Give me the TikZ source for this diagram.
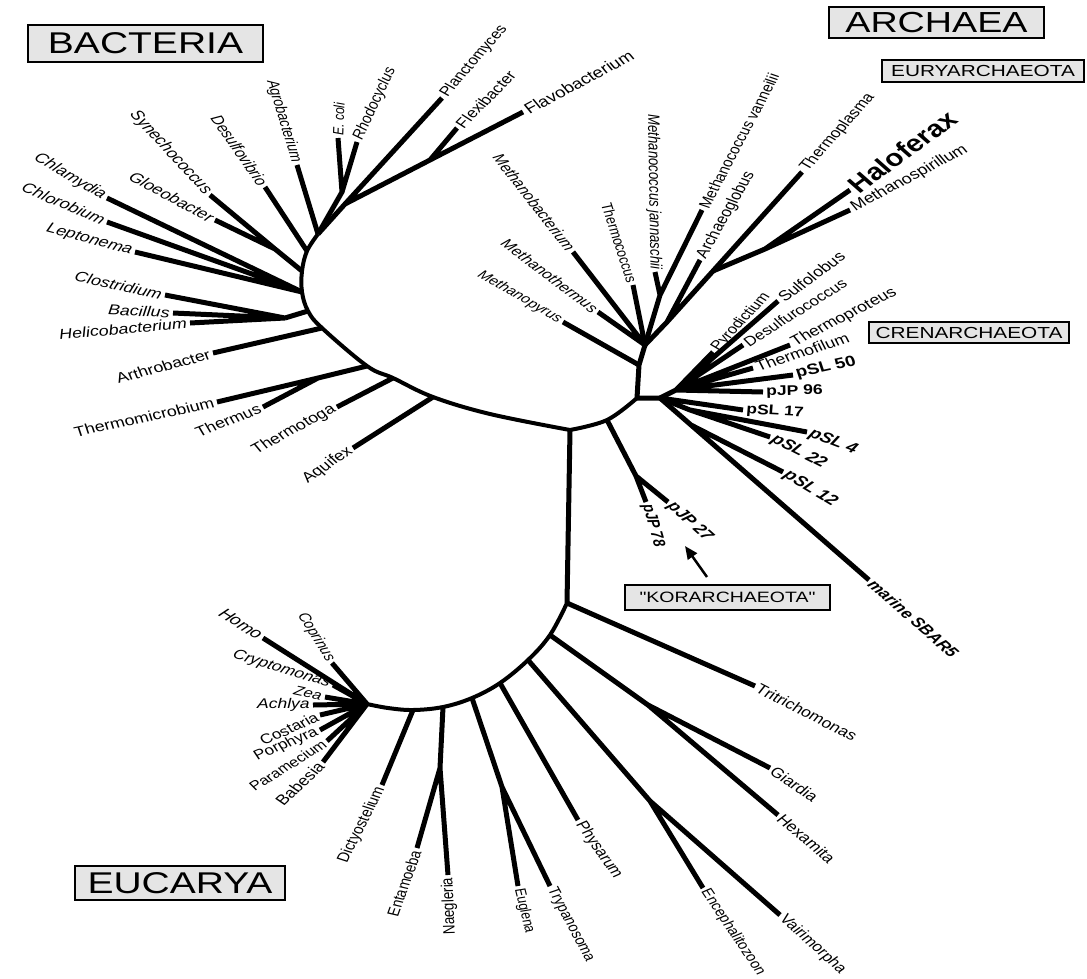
\documentclass[tikz,border=0pt]{standalone}
\usepackage{fontspec}
\setmainfont{Liberation Sans}
\newfontfamily\boxfont{Liberation Sans}[FakeStretch=1.3]
\usetikzlibrary{arrows.meta}
\definecolor{boxgray}{gray}{0.9}

\begin{document}
\begin{tikzpicture}[x=1pt, y=-1pt,
    spine/.style={line width=4pt, line join=round},
    branch/.style={line width=5pt},
    lab/.style={inner sep=2.5pt, font=\fontsize{#1}{#1}\selectfont}, lab/.default=14.3,
    ilab/.style={inner sep=2.5pt, font=\fontsize{#1}{#1}\selectfont\itshape}, ilab/.default=14.3,
    blab/.style={inner sep=2.5pt, font=\fontsize{#1}{#1}\selectfont\bfseries}, blab/.default=14.3,
    bilab/.style={inner sep=2.5pt, font=\fontsize{#1}{#1}\selectfont\bfseries\itshape}, bilab/.default=14.3,
    tilt/.style={xscale=1.25, rotate={atan(1.25*tan(#1))}},
    taxbox/.style={draw, line width=2.5pt, fill=boxgray, inner sep=0pt}]
    \useasboundingbox (0,0) rectangle (1087,978);

    % Domain boxes
    \node[taxbox, minimum width=235pt, minimum height=37pt, font=\boxfont\fontsize{30}{30}\selectfont] (bact) at (145.5,43.5) {BACTERIA};
    \node[taxbox, minimum width=215pt, minimum height=31pt, font=\boxfont\fontsize{29}{29}\selectfont] (arch) at (936.5,22.5) {ARCHAEA};
    \node[taxbox, minimum width=202pt, minimum height=22pt, font=\boxfont\fontsize{16}{16}\selectfont] (eury) at (983,71) {EURYARCHAEOTA};
    \node[taxbox, minimum width=200pt, minimum height=21pt, font=\boxfont\fontsize{16}{16}\selectfont] (cren) at (969,332.5) {CRENARCHAEOTA};
    \node[taxbox, minimum width=205pt, minimum height=25pt, font=\boxfont\fontsize{15}{15}\selectfont] (kor) at (727.5,597.5) {"KORARCHAEOTA"};
    \node[taxbox, minimum width=210pt, minimum height=34pt, font=\boxfont\fontsize{30}{30}\selectfont] (euca) at (180,883) {EUCARYA};

    % Bacteria: backbone
    \coordinate (r0) at (570,430);
    \coordinate (b1) at (490,414);
    \coordinate (b2) at (433,397);
    \coordinate (b3) at (393,378);
    \coordinate (b4) at (367,366);
    \coordinate (b5) at (322,328);
    \coordinate (b6) at (308,311);
    \coordinate (b7) at (302,292);
    \coordinate (b8) at (302,271);
    \coordinate (b9) at (307,251);
    \coordinate (b10) at (318,234);
    \draw[spine] plot[smooth, tension=0.6] coordinates {(r0) (b1) (b2) (b3) (b4) (b5) (b6) (b7) (b8) (b9) (b10)};

    % Bacteria: inner joints and tips
    \coordinate (cc) at (285,318);
    \coordinate (th) at (318,378);
    \coordinate (gl) at (275,249);
    \coordinate (ec) at (342,192);
    \coordinate (pf) at (345,204);
    \coordinate (fx) at (430,160);
    \coordinate (chlam) at (107,198);
    \coordinate (chlor) at (107,222);
    \coordinate (lepto) at (135,252);
    \coordinate (clost) at (165,295);
    \coordinate (bacil) at (173,313);
    \coordinate (helic) at (190,323);
    \coordinate (arthr) at (213,353);
    \coordinate (tmicro) at (217,402);
    \coordinate (therm) at (263,407);
    \coordinate (tmoto) at (337,407);
    \coordinate (aquif) at (353,448);
    \coordinate (synec) at (210,195);
    \coordinate (gloeo) at (215,220);
    \coordinate (desul) at (265,187);
    \coordinate (agrob) at (297,165);
    \coordinate (ecoli) at (338,138);
    \coordinate (rhodo) at (357,142);
    \coordinate (planc) at (442,98);
    \coordinate (flexi) at (457,128);
    \coordinate (flavo) at (523,112);

    \draw[branch] (b7) -- (chlam) (b7) -- (chlor) (b7) -- (lepto);
    \draw[branch] (b6) -- (cc) (cc) -- (clost) (cc) -- (bacil) (cc) -- (helic);
    \draw[branch] (b5) -- (arthr);
    \draw[branch] (b4) -- (th) -- (tmicro) (th) -- (therm);
    \draw[branch] (b3) -- (tmoto);
    \draw[branch] (b2) -- (aquif);
    \draw[branch] (b8) -- (gl) -- (synec) (gl) -- (gloeo);
    \draw[branch] (b9) -- (desul);
    \draw[branch] (b10) -- (agrob);
    \draw[branch] (b10) -- (ec) -- (ecoli) (ec) -- (rhodo);
    \draw[branch] (b10) -- (pf) -- (planc) (pf) -- (fx) -- (flavo) (fx) -- (flexi);

    \node[ilab, tilt=-30, anchor=east] (chlam-t) at (chlam) {Chlamydia};
    \node[ilab, tilt=-23, anchor=east] (chlor-t) at (chlor) {Chlorobium};
    \node[ilab, tilt=-15, anchor=east] (lepto-t) at (lepto) {Leptonema};
    \node[ilab, tilt=-12, anchor=east] (clost-t) at (clost) {Clostridium};
    \node[ilab, tilt=-3, anchor=east] (bacil-t) at (bacil) {Bacillus};
    \node[ilab, tilt=5, anchor=east] (helic-t) at (helic) {Helicobacterium};
    \node[lab, tilt=15, anchor=east] (arthr-t) at (arthr) {Arthrobacter};
    \node[lab, tilt=12, anchor=east] (tmicro-t) at (tmicro) {Thermomicrobium};
    \node[lab, tilt=21, anchor=east] (therm-t) at (therm) {Thermus};
    \node[lab, tilt=28, anchor=east] (tmoto-t) at (tmoto) {Thermotoga};
    \node[lab, tilt=34, anchor=east] (aquif-t) at (aquif) {Aquifex};
    \node[ilab, tilt=-47, anchor=east] (synec-t) at (synec) {Synechococcus};
    \node[ilab, tilt=-28, anchor=east] (gloeo-t) at (gloeo) {Gloeobacter};
    \node[ilab=13.6, tilt=-55, anchor=east] (desul-t) at (desul) {Desulfovibrio};
    \node[ilab=13, tilt=-73, anchor=east] (agrob-t) at (agrob) {Agrobacterium};
    \node[ilab=12, tilt=88, anchor=west] (ecoli-t) at (ecoli) {E. coli};
    \node[ilab=13.3, tilt=65, anchor=west] (rhodo-t) at (rhodo) {Rhodocyclus};
    \node[lab=13.5, tilt=49, anchor=west] (planc-t) at (planc) {Planctomyces};
    \node[lab=13.9, tilt=45, anchor=west] (flexi-t) at (flexi) {Flexibacter};
    \node[lab=14.9, tilt=28, anchor=west] (flavo-t) at (flavo) {Flavobacterium};

    % Archaea: backbone
    \coordinate (a1) at (607,420);
    \coordinate (a2) at (637,398);
    \coordinate (c0) at (660,398);
    \coordinate (e1) at (639,365);
    \coordinate (e0) at (645,345);
    \draw[spine] plot[smooth, tension=0.6] coordinates {(r0) (a1) (a2)};
    \draw[branch] (a2) -- (c0) (a2) -- (e1) -- (e0);

    % Korarchaeota
    \coordinate (k1) at (636,476);
    \coordinate (pjp78) at (646,502);
    \coordinate (pjp27) at (668,502);
    \draw[branch] (a1) -- (k1) -- (pjp78) (k1) -- (pjp27);
    \node[bilab=13.4, tilt=-74, anchor=west] (pjp78-t) at (pjp78) {pJP 78};
    \node[bilab=14.5, tilt=-42, anchor=west] (pjp27-t) at (pjp27) {pJP 27};
    \coordinate (kortail) at (707,577);
    \coordinate (korhead) at (685,546);
    \draw[line width=2.5pt, -{Triangle[length=13pt, width=11pt]}] (kortail) -- (korhead);

    % Euryarchaeota
    \coordinate (jn) at (660,295);
    \coordinate (ak) at (667,322);
    \coordinate (hj) at (713,271);
    \coordinate (hh) at (765,249);
    \coordinate (mpyr) at (563,322);
    \coordinate (mbact) at (573,252);
    \coordinate (mtherm) at (598,312);
    \coordinate (tcocc) at (633,285);
    \coordinate (mjann) at (655,272);
    \coordinate (mvann) at (702,210);
    \coordinate (aglob) at (700,260);
    \coordinate (tplas) at (802,172);
    \coordinate (halo) at (850,190);
    \coordinate (mspir) at (850,210);
    \draw[branch] (e1) -- (mpyr);
    \draw[branch] (e0) -- (mbact) (e0) -- (mtherm) (e0) -- (tcocc);
    \draw[branch] (e0) -- (jn) -- (mjann) (jn) -- (mvann);
    \draw[branch] (e0) -- (ak) -- (aglob) (ak) -- (hj) -- (tplas);
    \draw[branch] (hj) -- (hh) -- (halo) (hh) -- (mspir);

    \node[ilab=12.6, tilt=-30, anchor=east] (mpyr-t) at (mpyr) {Methanopyrus};
    \node[ilab=13.5, tilt=-52, anchor=east] (mbact-t) at (mbact) {Methanobacterium};
    \node[ilab=13.4, tilt=-37, anchor=east] (mtherm-t) at (mtherm) {Methanothermus};
    \node[lab=12.5, tilt=-72, anchor=east] (tcocc-t) at (tcocc) {Thermococcus};
    \node[ilab=13.2, tilt=-89, anchor=east] (mjann-t) at (mjann) {Methanococcus jannaschii};
    \node[lab=13.3, tilt=62, anchor=west] (mvann-t) at (mvann) {Methanococcus vanneilii};
    \node[lab=14, tilt=60, anchor=west] (aglob-t) at (aglob) {Archaeoglobus};
    \node[lab=13.8, tilt=48, anchor=west] (tplas-t) at (tplas) {Thermoplasma};
    \node[blab=23.7, tilt=36, anchor=west] (halo-t) at (halo) {Haloferax};
    \node[lab=14.4, tilt=28, anchor=west] (mspir-t) at (mspir) {Methanospirillum};

    % Crenarchaeota
    \coordinate (u0) at (676,390);
    \coordinate (l2) at (690,410);
    \coordinate (m1) at (691,425);
    \coordinate (pyro) at (713,352);
    \coordinate (sulfo) at (778,301);
    \coordinate (dsulf) at (743,345);
    \coordinate (tprot) at (790,345);
    \coordinate (tfil) at (753,368);
    \coordinate (psl50) at (793,375);
    \coordinate (pjp96) at (763,392);
    \coordinate (psl17) at (743,410);
    \coordinate (psl4) at (807,432);
    \coordinate (psl22) at (770,437);
    \coordinate (psl12) at (783,472);
    \coordinate (marine) at (869,580);
    \draw[branch] (c0) -- (u0) -- (pyro) (u0) -- (sulfo) (u0) -- (dsulf) (u0) -- (tprot)
        (u0) -- (tfil) (u0) -- (psl50) (u0) -- (pjp96);
    \draw[branch] (c0) -- (psl17) (c0) -- (l2) -- (psl4) (l2) -- (psl22);
    \draw[branch] (c0) -- (m1) -- (marine) (m1) -- (psl12);

    \node[lab=13.3, tilt=47, anchor=west] (pyro-t) at (pyro) {Pyrodictium};
    \node[lab=14.3, tilt=36, anchor=west] (sulfo-t) at (sulfo) {Sulfolobus};
    \node[lab=13.6, tilt=32, anchor=west] (dsulf-t) at (dsulf) {Desulfurococcus};
    \node[lab=14.3, tilt=27, anchor=west] (tprot-t) at (tprot) {Thermoproteus};
    \node[lab=14.3, tilt=18, anchor=west] (tfil-t) at (tfil) {Thermofilum};
    \node[blab=15, tilt=12, anchor=west] (psl50-t) at (psl50) {pSL 50};
    \node[blab=14, tilt=1, anchor=west] (pjp96-t) at (pjp96) {pJP 96};
    \node[blab=14, tilt=-3, anchor=west] (psl17-t) at (psl17) {pSL 17};
    \node[bilab=15, tilt=-21, anchor=west] (psl4-t) at (psl4) {pSL 4};
    \node[bilab=15, tilt=-27, anchor=west] (psl22-t) at (psl22) {pSL 22};
    \node[bilab=15, tilt=-31, anchor=west] (psl12-t) at (psl12) {pSL 12};
    \node[bilab, tilt=-41, anchor=west] (marine-t) at (marine) {marine SBAR5};

    % Eucarya: backbone
    \coordinate (t0) at (567,603);
    \coordinate (eu1) at (550,635);
    \coordinate (eu2) at (528,660);
    \coordinate (eu3) at (500,683);
    \coordinate (eu4) at (472,698);
    \coordinate (eu5) at (443,707);
    \coordinate (eu6) at (413,710);
    \coordinate (eu7) at (388,708);
    \coordinate (eu8) at (367,704);
    \draw[branch] (r0) -- (t0);
    \draw[spine] plot[smooth, tension=0.6] coordinates {(t0) (eu1) (eu2) (eu3) (eu4) (eu5) (eu6) (eu7) (eu8)};

    % Eucarya: joints and tips
    \coordinate (gh) at (648,705);
    \coordinate (ev) at (650,801);
    \coordinate (et) at (502,787);
    \coordinate (en) at (440,768);
    \coordinate (tritr) at (755,686);
    \coordinate (giard) at (770,768);
    \coordinate (hexam) at (778,815);
    \coordinate (encep) at (703,888);
    \coordinate (vairi) at (780,915);
    \coordinate (physa) at (578,820);
    \coordinate (eugle) at (518,886);
    \coordinate (trypa) at (550,886);
    \coordinate (entam) at (417,848);
    \coordinate (naegl) at (448,875);
    \coordinate (dicty) at (382,785);
    \coordinate (homo) at (263,638);
    \coordinate (copri) at (332,663);
    \coordinate (crypt) at (333,685);
    \coordinate (zea) at (325,697);
    \coordinate (achly) at (313,705);
    \coordinate (costa) at (320,715);
    \coordinate (porph) at (320,730);
    \coordinate (param) at (327,741);
    \coordinate (babes) at (323,762);
    \draw[branch] (t0) -- (tritr);
    \draw[branch] (eu1) -- (gh) -- (giard) (gh) -- (hexam);
    \draw[branch] (eu2) -- (ev) -- (encep) (ev) -- (vairi);
    \draw[branch] (eu3) -- (physa);
    \draw[branch] (eu4) -- (et) -- (eugle) (et) -- (trypa);
    \draw[branch] (eu5) -- (en) -- (entam) (en) -- (naegl);
    \draw[branch] (eu6) -- (dicty);
    \draw[branch] (eu8) -- (homo) (eu8) -- (copri) (eu8) -- (crypt) (eu8) -- (zea) (eu8) -- (achly)
        (eu8) -- (costa) (eu8) -- (porph) (eu8) -- (param) (eu8) -- (babes);

    \node[lab=14.1, tilt=-27, anchor=west] (tritr-t) at (tritr) {Tritrichomonas};
    \node[lab=14.1, tilt=-34, anchor=west] (giard-t) at (giard) {Giardia};
    \node[lab, tilt=-40, anchor=west] (hexam-t) at (hexam) {Hexamita};
    \node[lab=12.9, tilt=-56, anchor=west] (encep-t) at (encep) {Encephalitozoon};
    \node[lab=13.8, tilt=-42, anchor=west] (vairi-t) at (vairi) {Vairimorpha};
    \node[lab=14, tilt=-55, anchor=west] (physa-t) at (physa) {Physarum};
    \node[lab=12.3, tilt=-76, anchor=west] (eugle-t) at (eugle) {Euglena};
    \node[lab=13, tilt=-62, anchor=west] (trypa-t) at (trypa) {Trypanosoma};
    \node[lab=13.3, tilt=70, anchor=east] (entam-t) at (entam) {Entamoeba};
    \node[lab=13.3, xscale=1.25, rotate=92, anchor=east] (naegl-t) at (naegl) {Naegleria};
    \node[lab=13.5, tilt=63, anchor=east] (dicty-t) at (dicty) {Dictyostelium};
    \node[ilab=15, tilt=-33, anchor=east] (homo-t) at (homo) {Homo};
    \node[ilab=13, tilt=-58, anchor=east] (copri-t) at (copri) {Coprinus};
    \node[ilab=13.9, tilt=-17, anchor=east] (crypt-t) at (crypt) {Cryptomonas};
    \node[ilab=13.2, tilt=-12, anchor=east] (zea-t) at (zea) {Zea};
    \node[ilab=14, tilt=0, anchor=east] (achly-t) at (achly) {Achlya};
    \node[lab=13.8, tilt=24, anchor=east] (costa-t) at (costa) {Costaria};
    \node[lab=13.8, tilt=23, anchor=east] (porph-t) at (porph) {Porphyra};
    \node[lab=13.2, tilt=32, anchor=east] (param-t) at (param) {Paramecium};
    \node[lab, tilt=43, anchor=east] (babes-t) at (babes) {Babesia};
\end{tikzpicture}
\end{document}
